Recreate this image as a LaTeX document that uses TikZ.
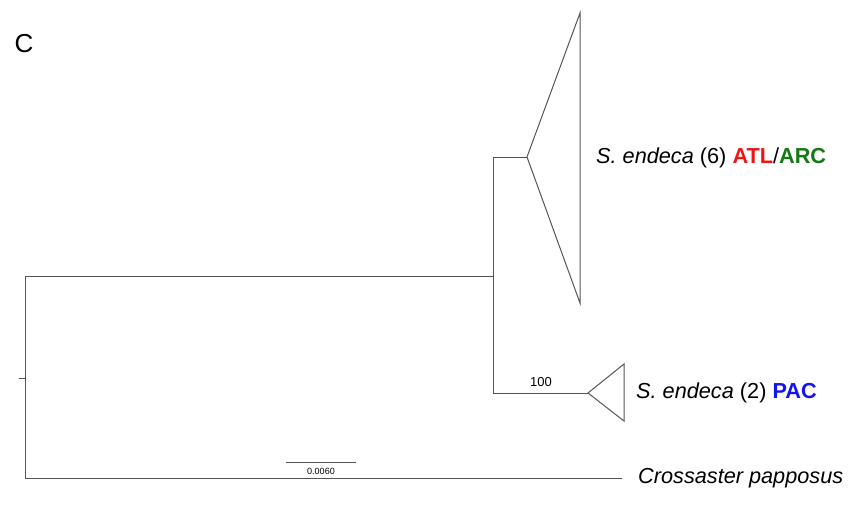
\documentclass[tikz,border=0pt]{standalone}
\usepackage{fontspec}
\setmainfont{Liberation Sans}
\definecolor{atl}{RGB}{240,20,20}
\definecolor{arc}{RGB}{20,120,20}
\definecolor{pac}{RGB}{20,20,240}
\definecolor{branch}{RGB}{85,85,85}
\begin{document}
\begin{tikzpicture}[x=1pt,y=-1pt,
  br/.style={draw=branch,line width=1pt},
  lab/.style={anchor=west,inner sep=0pt,font=\fontsize{21.7}{24}\selectfont},
  tiny/.style={inner sep=0pt,font=\fontsize{9}{10}\selectfont}]
\useasboundingbox (0,0) rectangle (852,504);
\node[inner sep=0pt,font=\fontsize{26}{28}\selectfont] (c) at (24,44) {C};
% coordinates
\coordinate (root) at (25,378);
\coordinate (stub) at (19,378);
\coordinate (rt) at (25,276);
\coordinate (rb) at (25,478);
\coordinate (n1) at (493,276);
\coordinate (n1t) at (493,157);
\coordinate (n1b) at (493,393);
\coordinate (a1) at (527,157);
\coordinate (t1) at (580,13);
\coordinate (b1) at (580,303);
\coordinate (a2) at (588,393);
\coordinate (t2) at (624,364);
\coordinate (b2) at (624,421);
\coordinate (cp) at (622,478);
\draw[br] (stub) -- (root);
\draw[br] (n1) -- (rt) -- (rb) -- (cp);
\draw[br] (a1) -- (n1t) -- (n1b) -- (a2);
\draw[br] (a1) -- (t1) -- (b1) -- cycle;
\draw[br] (a2) -- (t2) -- (b2) -- cycle;
\node[inner sep=0pt,font=\fontsize{13}{14}\selectfont] (bs) at (541,382) {100};
\node[lab] (l1) at (596,158) {\textit{S. endeca} (6) \textcolor{atl}{\textbf{ATL}}/\textcolor{arc}{\textbf{ARC}}};
\node[lab] (l2) at (636,393) {\textit{S. endeca} (2) \textcolor{pac}{\textbf{PAC}}};
\node[lab] (l3) at (638,478) {\textit{Crossaster papposus}};
% scale bar
\coordinate (s1) at (286,462);
\coordinate (s2) at (356,462);
\draw[br,line width=0.8pt] (s1) -- (s2);
\node[tiny] (sl) at (321,471) {0.0060};
\end{tikzpicture}
\end{document}
